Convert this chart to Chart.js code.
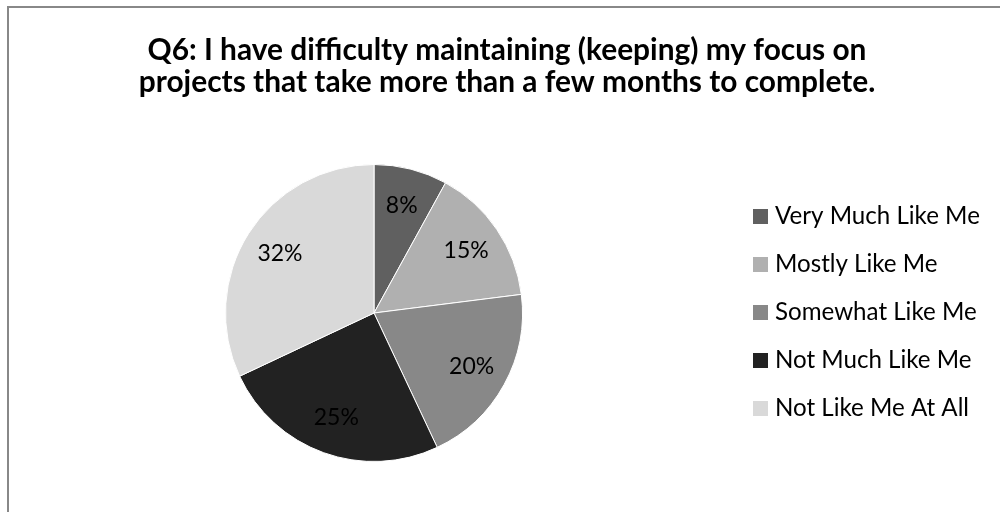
<!DOCTYPE html>
<html>
<head>
<meta charset="utf-8">
<script src="https://cdn.jsdelivr.net/npm/chart.js@4"></script>
<style>
html,body{margin:0;padding:0;background:#fff;overflow:hidden}
#wrap{position:relative;width:1000px;height:512px;overflow:hidden}
#frame{position:absolute;left:7px;top:6px;width:1200px;height:800px;border:2px solid #888;box-sizing:border-box}
#c{position:absolute;left:0;top:0;width:1000px;height:512px}
</style>
</head>
<body>
<div id="wrap"><div id="frame"></div><canvas id="c" width="1000" height="512"></canvas></div>
<script>
const titleLines = ["Q6: I have difficulty maintaining (keeping) my focus on", "projects that take more than a few months to complete."];
const categories = ["Very Much Like Me", "Mostly Like Me", "Somewhat Like Me", "Not Much Like Me", "Not Like Me At All"];
const percentages = [8, 15, 20, 25, 32];
const sliceColors = ["#606060", "#b0b0b0", "#888888", "#222222", "#d9d9d9"];

const FAMILY = 'Lato, "Open Sans", sans-serif';
function fitSize(text, width, weight) {
  const ctx = document.createElement('canvas').getContext('2d');
  ctx.font = weight + ' 100px ' + FAMILY;
  return 100 * width / ctx.measureText(text).width;
}
const titleSize = fitSize(titleLines[0], 719, 'bold');
const legendSize = fitSize(categories[0], 205, 'normal');
const labelSize = 23;

const overlay = {
  id: 'overlay',
  afterDatasetsDraw(chart) {
    const ctx = chart.ctx;
    const meta = chart.getDatasetMeta(0);
    ctx.save();
    ctx.fillStyle = '#000';
    ctx.textAlign = 'center';
    ctx.textBaseline = 'middle';
    ctx.font = labelSize.toFixed(2) + 'px ' + FAMILY;
    meta.data.forEach((arc, i) => {
      const p = arc.getProps(['x', 'y', 'startAngle', 'endAngle', 'outerRadius'], true);
      const mid = (p.startAngle + p.endAngle) / 2;
      const r = p.outerRadius * 0.75;
      ctx.fillText(chart.data.datasets[0].data[i] + '%', p.x + Math.cos(mid) * r, p.y + Math.sin(mid) * r);
    });
    ctx.textBaseline = 'alphabetic';
    ctx.font = 'bold ' + titleSize.toFixed(2) + 'px ' + FAMILY;
    ctx.fillText(titleLines[0], 507, 60);
    ctx.fillText(titleLines[1], 507, 92);
    ctx.textAlign = 'left';
    ctx.font = legendSize.toFixed(2) + 'px ' + FAMILY;
    chart.data.labels.forEach((lab, i) => {
      const base = 224 + 48 * i;
      ctx.fillStyle = chart.data.datasets[0].backgroundColor[i];
      ctx.fillRect(753, base - 15, 15, 15);
      ctx.fillStyle = '#000';
      ctx.fillText(lab, 775, base);
    });
    ctx.restore();
  }
};

new Chart(document.getElementById('c'), {
  type: 'pie',
  data: {
    labels: categories,
    datasets: [{
      data: percentages,
      backgroundColor: sliceColors,
      borderColor: '#ffffff',
      borderWidth: 1
    }]
  },
  options: {
    responsive: false,
    animation: false,
    layout: { padding: { left: 225, right: 477, top: 164, bottom: 50 } },
    plugins: {
      legend: { display: false },
      title: { display: false },
      tooltip: { enabled: false }
    }
  },
  plugins: [overlay]
});
</script>
</body>
</html>
